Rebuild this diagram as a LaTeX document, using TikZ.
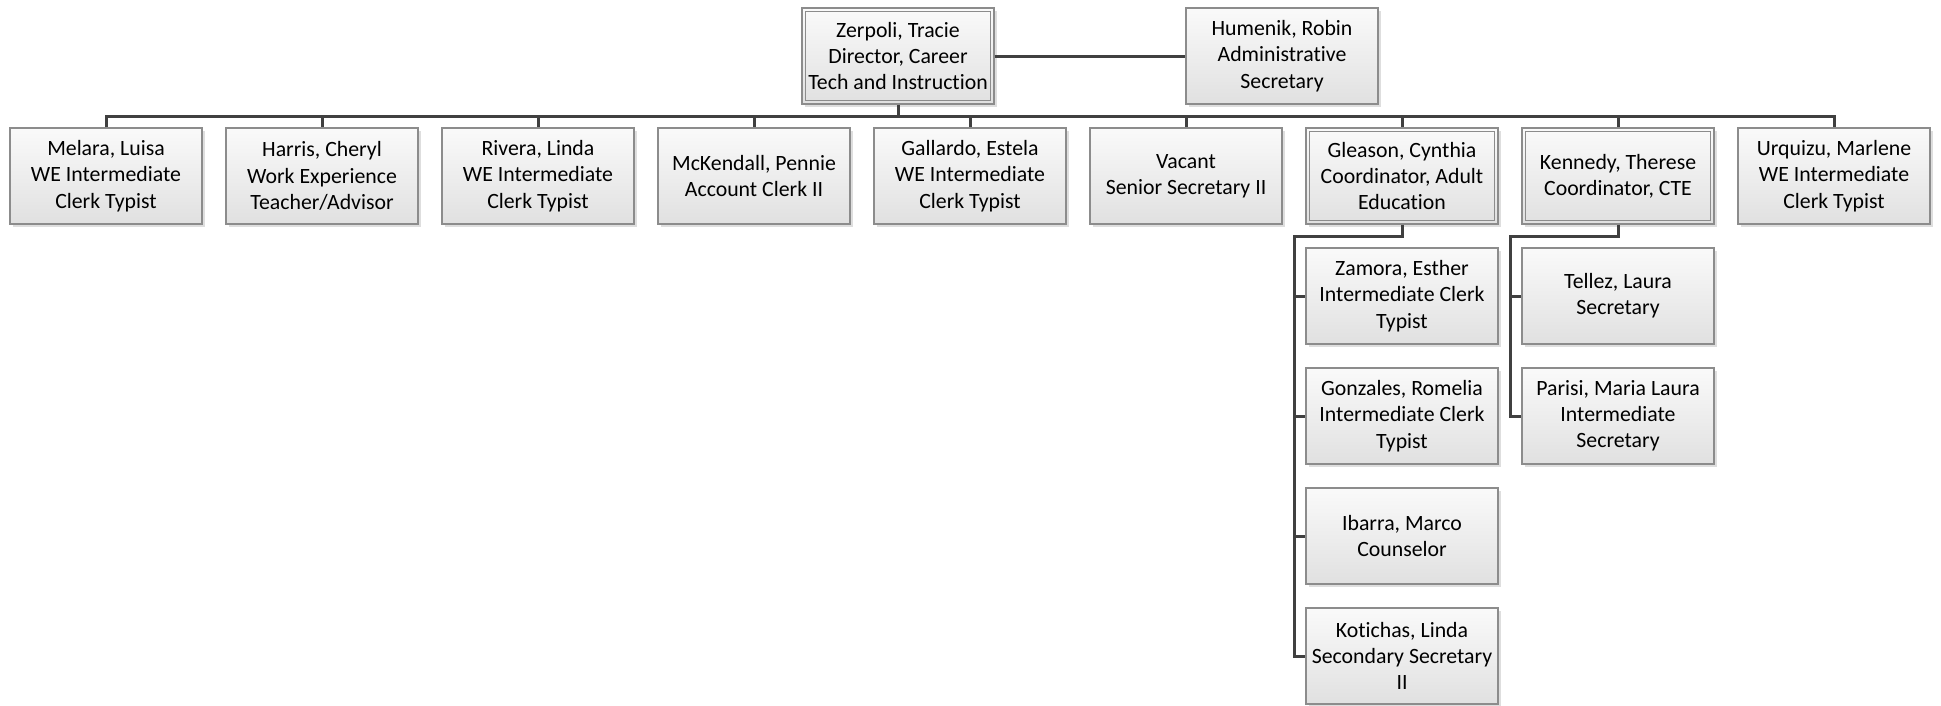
\documentclass[tikz,border=0pt]{standalone}
\usepackage{fontspec}
\setmainfont{Carlito}[Ligatures=NoCommon]
\usetikzlibrary{shadows,calc}
\definecolor{boxborder}{HTML}{8C8C8C}
\definecolor{conncol}{HTML}{404040}
\tikzset{
  person/.style={draw=boxborder, line width=1.3pt, top color=black!2, bottom color=black!12,
    minimum width=192pt, minimum height=96pt, inner sep=2pt, align=center,
    font=\fontsize{21.8}{26.2}\selectfont,
    drop shadow={shadow xshift=3pt, shadow yshift=-3pt, fill=black!13, opacity=1, draw=none}},
  innerline/.style={draw=boxborder, line width=1.3pt},
  conn/.style={draw=conncol, line width=3pt}
}
\begin{document}
\begin{tikzpicture}[x=1pt,y=-1pt]
\useasboundingbox[fill=white] (0,0) rectangle (1941,705);
% top level
\node[person] (zer) at (898,56) {Zerpoli, Tracie\\Director, Career\\Tech and Instruction};
\node[person] (hum) at (1282,56) {Humenik, Robin\\Administrative\\Secretary};
% second level
\node[person] (mel) at (106,176) {Melara, Luisa\\WE Intermediate\\Clerk Typist};
\node[person] (har) at (322,176) {Harris, Cheryl\\Work Experience\\Teacher/Advisor};
\node[person] (riv) at (538,176) {Rivera, Linda\\WE Intermediate\\Clerk Typist};
\node[person] (mck) at (754,176) {McKendall, Pennie\\Account Clerk II};
\node[person] (gal) at (970,176) {Gallardo, Estela\\WE Intermediate\\Clerk Typist};
\node[person] (vac) at (1186,176) {Vacant\\Senior Secretary II};
\node[person] (gle) at (1402,176) {Gleason, Cynthia\\Coordinator, Adult\\Education};
\node[person] (ken) at (1618,176) {Kennedy, Therese\\Coordinator, CTE};
\node[person] (urq) at (1834,176) {Urquizu, Marlene\\WE Intermediate\\Clerk Typist};
% third level
\node[person] (zam) at (1402,296) {Zamora, Esther\\Intermediate Clerk\\Typist};
\node[person] (gon) at (1402,416) {Gonzales, Romelia\\Intermediate Clerk\\Typist};
\node[person] (iba) at (1402,536) {Ibarra, Marco\\Counselor};
\node[person] (kot) at (1402,656) {Kotichas, Linda\\Secondary Secretary\\II};
\node[person] (tel) at (1618,296) {Tellez, Laura\\Secretary};
\node[person] (par) at (1618,416) {Parisi, Maria Laura\\Intermediate\\Secretary};
% inner borders of double-framed boxes
\foreach \n in {zer,gle,ken}
  \draw[innerline] ([shift={(4pt,-4pt)}]\n.north west) rectangle ([shift={(-4pt,4pt)}]\n.south east);
% connectors
\coordinate (bus) at (898,116);
\coordinate (grail) at (1294,236);
\coordinate (krail) at (1510,236);
\draw[conn] (zer.east) -- (hum.west);
\draw[conn] (zer.south) -- (bus);
\draw[conn] (mel.north) |- (bus) -| (urq.north);
\foreach \n in {har,riv,mck,gal,vac,gle,ken}
  \draw[conn] (bus -| \n.north) -- (\n.north);
\draw[conn] (gle.south) |- (grail) |- (kot.west);
\foreach \n in {zam,gon,iba}
  \draw[conn] (grail |- \n.west) -- (\n.west);
\draw[conn] (ken.south) |- (krail) |- (par.west);
\draw[conn] (krail |- tel.west) -- (tel.west);
\end{tikzpicture}
\end{document}
